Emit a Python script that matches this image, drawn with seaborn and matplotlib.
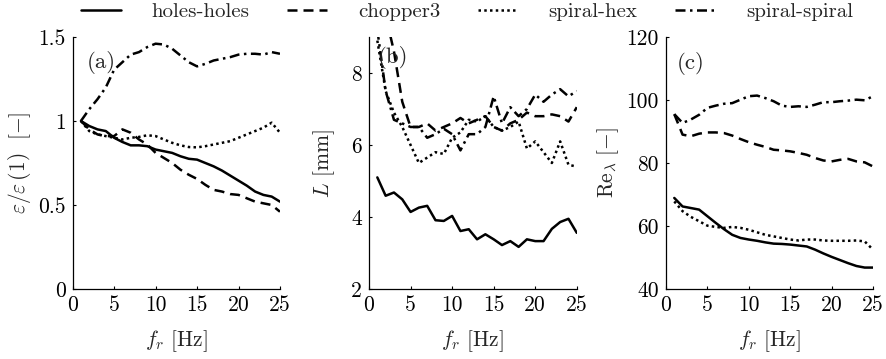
import numpy as np
import pandas as pd
import matplotlib
matplotlib.use("Agg")
import matplotlib.pyplot as plt
import seaborn as sns
from matplotlib.lines import Line2D

# ---------------- data ----------------
fr = list(range(1, 26))
series = ["holes-holes", "chopper3", "spiral-hex", "spiral-spiral"]

eps_holes = [1.0, 0.97, 0.95, 0.94, 0.90, 0.875, 0.855, 0.855, 0.85, 0.83, 0.82, 0.81, 0.79,
             0.775, 0.77, 0.75, 0.73, 0.705, 0.675, 0.645, 0.615, 0.58, 0.56, 0.55, 0.52]
eps_chopper = [1.0, 0.95, 0.92, 0.91, 0.91, 0.95, 0.93, 0.89, 0.86, 0.81, 0.78, 0.75, 0.71,
               0.68, 0.655, 0.62, 0.59, 0.58, 0.565, 0.56, 0.54, 0.52, 0.51, 0.50, 0.46]
eps_hex = [1.0, 0.94, 0.92, 0.91, 0.90, 0.89, 0.90, 0.905, 0.915, 0.91, 0.89, 0.87, 0.855,
           0.845, 0.843, 0.85, 0.86, 0.87, 0.88, 0.90, 0.92, 0.94, 0.96, 0.99, 0.93]
eps_spiral = [1.0, 1.07, 1.13, 1.20, 1.305, 1.35, 1.395, 1.41, 1.44, 1.46, 1.455, 1.43, 1.39,
              1.35, 1.325, 1.34, 1.36, 1.37, 1.38, 1.395, 1.40, 1.40, 1.395, 1.41, 1.40]

L_holes = [5.10, 4.59, 4.68, 4.49, 4.14, 4.26, 4.31, 3.91, 3.89, 4.03, 3.61, 3.66, 3.38,
           3.52, 3.38, 3.22, 3.33, 3.17, 3.38, 3.33, 3.33, 3.67, 3.86, 3.95, 3.56]
L_chopper = [9.8, 9.6, 8.6, 7.2, 6.5, 6.5, 6.6, 6.4, 6.5, 6.6, 6.75, 6.6, 6.7,
             6.8, 6.5, 6.4, 6.6, 6.7, 6.9, 6.8, 6.8, 6.85, 6.8, 6.65, 7.05]
L_hex = [8.9, 7.5, 6.9, 6.5, 6.0, 5.5, 5.65, 5.8, 5.75, 6.2, 6.35, 6.7, 6.65,
         6.8, 6.5, 6.4, 6.5, 6.65, 5.9, 6.1, 5.8, 5.5, 6.1, 5.45, 5.4]
L_spiral = [9.2, 7.5, 6.7, 6.6, 6.5, 6.5, 6.2, 6.3, 6.45, 6.3, 5.85, 6.3, 6.3,
            6.5, 7.35, 6.6, 7.05, 6.8, 7.0, 7.4, 7.2, 7.4, 7.55, 7.35, 7.5]

Re_holes = [68.9, 66.2, 65.7, 65.2, 63.1, 61.0, 59.0, 57.2, 56.2, 55.7, 55.3, 54.8, 54.4,
            54.3, 54.1, 53.8, 53.5, 52.5, 51.3, 50.2, 49.2, 48.2, 47.3, 46.8, 46.8]
Re_chopper = [95.5, 89.0, 88.5, 89.3, 89.7, 89.7, 89.5, 88.7, 87.6, 86.6, 85.8, 85.1, 84.2,
              84.0, 83.7, 83.2, 82.6, 81.6, 80.8, 80.5, 81.0, 81.3, 80.5, 80.2, 78.9]
Re_hex = [67.8, 64.7, 62.9, 61.5, 60.1, 59.7, 59.4, 59.7, 59.4, 58.8, 58.0, 57.2, 56.7,
          56.2, 55.7, 55.4, 55.7, 55.7, 55.4, 55.3, 55.3, 55.3, 55.4, 55.1, 52.5]
Re_spiral = [95.5, 92.7, 93.8, 95.3, 97.5, 98.2, 98.8, 99.0, 100.1, 101.2, 101.4, 100.6, 99.6,
             98.2, 97.8, 98.0, 97.8, 98.5, 99.3, 99.3, 99.6, 99.8, 100.1, 99.9, 101.2]

xticks = [0, 5, 10, 15, 20, 25]
yticks_a = [0, 0.5, 1, 1.5]
yticklabels_a = ["0", "0.5", "1", "1.5"]
yticks_b = [2, 4, 6, 8]
yticks_c = [40, 60, 80, 100, 120]

# ---------------- style ----------------
sns.set_style("ticks")
plt.rcParams.update({
    "font.family": ["cmr10", "DejaVu Serif"],
    "mathtext.fontset": "cm",
    "axes.formatter.use_mathtext": True,
    "axes.unicode_minus": False,
    "xtick.direction": "in",
    "ytick.direction": "in",
    "xtick.major.size": 2.5,
    "ytick.major.size": 2.5,
    "axes.linewidth": 0.9,
    "axes.edgecolor": "black",
    "xtick.color": "black",
    "ytick.color": "black",
})

styles = {
    "holes-holes": "-",
    "chopper3": (0, (4.0, 2.4)),
    "spiral-hex": (0, (1.0, 1.3)),
    "spiral-spiral": (0, (4.0, 1.8, 1.0, 1.8)),
}

fig = plt.figure(figsize=(8.86, 3.59), dpi=100)
bottom, top = 0.195, 0.897
axa = fig.add_axes([0.082, bottom, 0.234, top - bottom])
axb = fig.add_axes([0.4165, bottom, 0.2345, top - bottom])
axc = fig.add_axes([0.7517, bottom, 0.2336, top - bottom])

panels = [
    (axa, [eps_holes, eps_chopper, eps_hex, eps_spiral], (0, 1.5), yticks_a, yticklabels_a,
     r"$\varepsilon/\varepsilon\,(1)\ \ [-]$", "(a)", (0.07, 0.90), 4),
    (axb, [L_holes, L_chopper, L_hex, L_spiral], (2, 9), yticks_b, [str(v) for v in yticks_b],
     r"$L$ [mm]", "(b)", (0.04, 0.92), 10),
    (axc, [Re_holes, Re_chopper, Re_hex, Re_spiral], (40, 120), yticks_c, [str(v) for v in yticks_c],
     r"$\mathrm{Re}_\lambda\ [-]$", "(c)", (0.05, 0.895), 4),
]

fs = 15.5
for ax, vals, ylim, yt, ytl, ylab, tag, tpos, ypad in panels:
    for name, v in zip(series, vals):
        sns.lineplot(x=fr, y=v, ax=ax, color="black", linestyle=styles[name],
                     linewidth=1.8, sort=False, estimator=None)
    ax.set_xlim(0, 25)
    ax.set_ylim(*ylim)
    ax.set_xticks(xticks)
    ax.set_xticklabels([str(t) for t in xticks], fontsize=fs)
    ax.set_yticks(yt)
    ax.set_yticklabels(ytl, fontsize=fs)
    ax.set_xlabel(r"$f_r$ [Hz]", fontsize=fs, labelpad=9)
    ax.set_ylabel(ylab, fontsize=fs, labelpad=ypad)
    ax.text(tpos[0], tpos[1], tag, transform=ax.transAxes, fontsize=fs + 1,
            ha="left", va="center")
    sns.despine(ax=ax)
    ax.tick_params(axis="both", pad=5)

handles = [Line2D([], [], color="black", linestyle=styles[n], linewidth=1.8) for n in series]
fig.legend(handles, series, loc="upper center", bbox_to_anchor=(0.527, 1.045), ncol=4,
           frameon=False, fontsize=15, handlelength=1.9, handletextpad=1.5,
           columnspacing=1.8)

fig.savefig("out.png", dpi=100)
